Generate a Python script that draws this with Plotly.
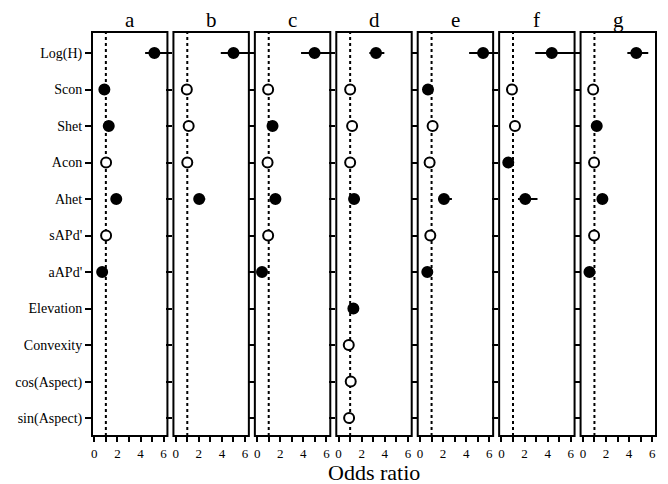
import plotly.graph_objects as go

categories = ["Log(H)", "Scon", "Shet", "Acon", "Ahet", "sAPd'", "aAPd'",
              "Elevation", "Convexity", "cos(Aspect)", "sin(Aspect)"]
panels = ["a", "b", "c", "d", "e", "f", "g"]

# per panel: variable -> (odds ratio, lower, upper, significant)
panel_a_vars = ["Log(H)", "Scon", "Shet", "Acon", "Ahet", "sAPd'", "aAPd'"]
panel_a_or = [5.2, 0.87, 1.25, 1.02, 1.9, 1.02, 0.68]
panel_a_lo = [4.4, 0.8, 1.15, 0.9, 1.7, 0.9, 0.6]
panel_a_hi = [6.6, 0.95, 1.35, 1.15, 2.1, 1.15, 0.78]
panel_a_sig = [1, 1, 1, 0, 1, 0, 1]

panel_b_vars = ["Log(H)", "Scon", "Shet", "Acon", "Ahet"]
panel_b_or = [5.0, 0.96, 1.12, 1.0, 2.03]
panel_b_lo = [3.9, 0.85, 1.0, 0.9, 1.7]
panel_b_hi = [6.6, 1.08, 1.25, 1.1, 2.55]
panel_b_sig = [1, 0, 0, 0, 1]

panel_c_vars = ["Log(H)", "Scon", "Shet", "Acon", "Ahet", "sAPd'", "aAPd'"]
panel_c_or = [4.97, 0.95, 1.33, 0.9, 1.58, 0.95, 0.42]
panel_c_lo = [3.8, 0.85, 1.2, 0.8, 1.45, 0.85, 0.35]
panel_c_hi = [6.6, 1.05, 1.45, 1.0, 1.75, 1.05, 0.5]
panel_c_sig = [1, 0, 1, 0, 1, 0, 1]

panel_d_vars = ["Log(H)", "Scon", "Shet", "Acon", "Ahet",
                "Elevation", "Convexity", "cos(Aspect)", "sin(Aspect)"]
panel_d_or = [3.24, 1.0, 1.17, 1.0, 1.34, 1.28, 0.88, 1.05, 0.91]
panel_d_lo = [2.66, 0.9, 1.05, 0.9, 1.2, 1.18, 0.8, 0.95, 0.82]
panel_d_hi = [3.96, 1.1, 1.3, 1.1, 1.5, 1.38, 0.96, 1.15, 1.0]
panel_d_sig = [1, 0, 0, 0, 1, 1, 0, 0, 0]

panel_e_vars = ["Log(H)", "Scon", "Shet", "Acon", "Ahet", "sAPd'", "aAPd'"]
panel_e_or = [5.46, 0.69, 1.09, 0.83, 2.07, 0.89, 0.63]
panel_e_lo = [4.25, 0.6, 0.97, 0.72, 1.66, 0.78, 0.55]
panel_e_hi = [6.6, 0.78, 1.22, 0.95, 2.76, 1.0, 0.72]
panel_e_sig = [1, 1, 0, 0, 1, 0, 1]

panel_f_vars = ["Log(H)", "Scon", "Shet", "Acon", "Ahet"]
panel_f_or = [4.36, 0.91, 1.17, 0.59, 2.06]
panel_f_lo = [2.92, 0.8, 1.02, 0.5, 1.43]
panel_f_hi = [6.6, 1.03, 1.32, 0.7, 3.12]
panel_f_sig = [1, 0, 0, 1, 1]

panel_g_vars = ["Log(H)", "Scon", "Shet", "Acon", "Ahet", "sAPd'", "aAPd'"]
panel_g_or = [4.62, 0.89, 1.2, 0.97, 1.69, 0.97, 0.57]
panel_g_lo = [3.85, 0.8, 1.1, 0.88, 1.55, 0.88, 0.5]
panel_g_hi = [5.66, 0.98, 1.3, 1.06, 1.85, 1.06, 0.65]
panel_g_sig = [1, 0, 1, 0, 1, 0, 1]

panel_data = [
    (panel_a_vars, panel_a_or, panel_a_lo, panel_a_hi, panel_a_sig),
    (panel_b_vars, panel_b_or, panel_b_lo, panel_b_hi, panel_b_sig),
    (panel_c_vars, panel_c_or, panel_c_lo, panel_c_hi, panel_c_sig),
    (panel_d_vars, panel_d_or, panel_d_lo, panel_d_hi, panel_d_sig),
    (panel_e_vars, panel_e_or, panel_e_lo, panel_e_hi, panel_e_sig),
    (panel_f_vars, panel_f_or, panel_f_lo, panel_f_hi, panel_f_sig),
    (panel_g_vars, panel_g_or, panel_g_lo, panel_g_hi, panel_g_sig),
]

x_tickvals = [0, 1, 2, 3, 4, 5, 6]
x_ticktext = ["0", "", "2", "", "4", "", "6"]
ref_line = 1

W, H = 668, 484
ml, mr, mt, mb = 92, 12, 32, 48
pw = W - ml - mr
gap = 6.0
cw = (pw - gap * 6) / 7

FONT = "Liberation Serif, Times New Roman, serif"

fig = go.Figure()
for i, (vars_, ors, los, his, sig) in enumerate(panel_data):
    ax = "" if i == 0 else str(i + 1)
    x0 = (i * (cw + gap)) / pw
    x1 = (i * (cw + gap) + cw) / pw
    for flag in (1, 0):
        idx = [k for k in range(len(vars_)) if sig[k] == flag]
        if not idx:
            continue
        fig.add_trace(go.Scatter(
            x=[ors[k] for k in idx],
            y=[vars_[k] for k in idx],
            mode="markers",
            xaxis="x" + ax, yaxis="y" + ax,
            marker=dict(size=10, symbol="circle",
                        color="black" if flag else "white",
                        line=dict(color="black", width=2)),
            error_x=dict(type="data", symmetric=False,
                         array=[his[k] - ors[k] for k in idx],
                         arrayminus=[ors[k] - los[k] for k in idx],
                         color="black", thickness=2, width=0),
            showlegend=False, cliponaxis=True,
        ))
    fig.add_shape(type="line", x0=ref_line, x1=ref_line, y0=0, y1=1,
                  xref="x" + ax, yref="y" + ax + " domain",
                  line=dict(color="black", width=2, dash="dot"), layer="below")
    fig.add_shape(type="rect", x0=0, x1=1, y0=0, y1=1,
                  xref="x" + ax + " domain", yref="y" + ax + " domain",
                  line=dict(color="black", width=2), fillcolor="rgba(0,0,0,0)")
    fig.add_annotation(text=panels[i], x=0.5, y=1, xref="x" + ax + " domain",
                       yref="paper", yanchor="bottom", yshift=-2, showarrow=False,
                       font=dict(family=FONT, size=21, color="black"))
    fig.layout["xaxis" + ax] = dict(
        domain=[x0, x1], range=[-0.2, 6.33], anchor="y" + ax,
        tickvals=x_tickvals, ticktext=x_ticktext, ticks="outside",
        ticklen=5, tickwidth=1.6, tickcolor="black", showgrid=False,
        zeroline=False, showline=False,
        tickfont=dict(family=FONT, size=13, color="black"), fixedrange=True)
    fig.layout["yaxis" + ax] = dict(
        domain=[0, 1], anchor="x" + ax, type="category",
        categoryorder="array", categoryarray=categories,
        range=[10.49, -0.575], ticks="outside", ticklen=6, tickwidth=1.6,
        tickcolor="black", showgrid=False, zeroline=False, showline=False,
        showticklabels=(i == 0), tickvals=categories,
        tickfont=dict(family=FONT, size=14, color="black"), fixedrange=True)

fig.add_annotation(text="Odds ratio", x=0.5, y=0, xref="paper", yref="paper",
                   yanchor="top", yshift=-23, showarrow=False, borderpad=0,
                   font=dict(family=FONT, size=22, color="black"))

fig.update_layout(width=W, height=H, margin=dict(l=ml, r=mr, t=mt, b=mb),
                  plot_bgcolor="white", paper_bgcolor="white")
fig.write_html("out.html", config={"displayModeBar": False},
               post_script="document.body.style.margin='0px';document.body.style.overflow='hidden';")
